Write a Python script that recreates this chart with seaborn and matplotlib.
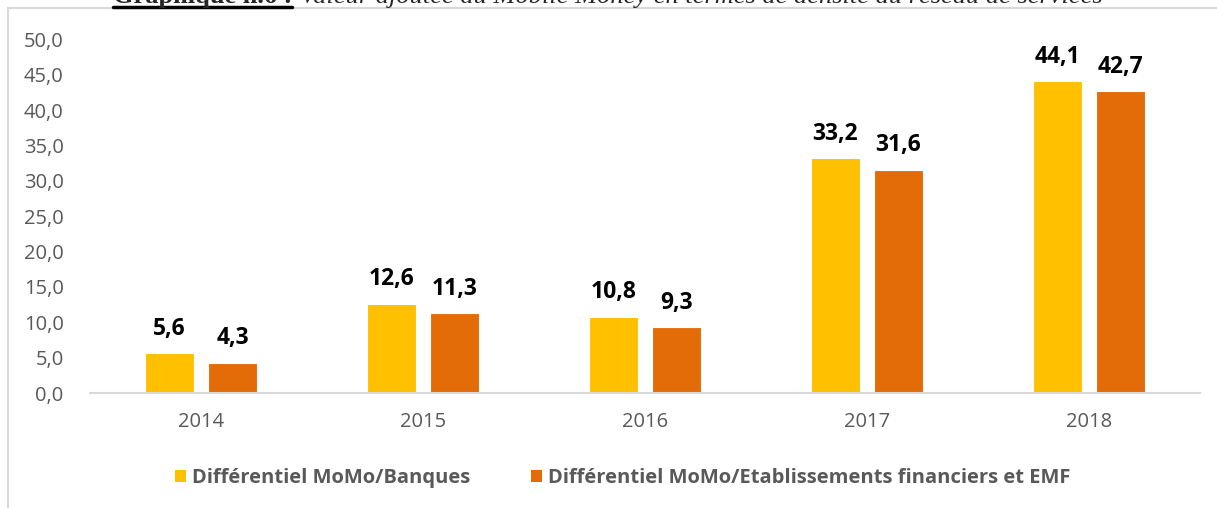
import matplotlib
matplotlib.use('Agg')
import matplotlib.pyplot as plt
from matplotlib.lines import Line2D
from matplotlib.patches import Rectangle, Patch
import pandas as pd
import seaborn as sns

# Data
annees = ['2014', '2015', '2016', '2017', '2018']
series = ['Différentiel MoMo/Banques',
          'Différentiel MoMo/Etablissements financiers et EMF']
momo_banques = [5.6, 12.6, 10.8, 33.2, 44.1]
momo_ef_emf = [4.3, 11.3, 9.3, 31.6, 42.7]
yticks = [0, 5, 10, 15, 20, 25, 30, 35, 40, 45, 50]
couleurs = ['#FFC000', '#E36C09']

titre_num = 'Graphique n.6 :'
titre_txt = 'Valeur ajoutée du Mobile Money en termes de densité du réseau de services'

df = pd.DataFrame({
    'annee': annees * 2,
    'valeur': momo_banques + momo_ef_emf,
    'serie': [series[0]] * len(annees) + [series[1]] * len(annees),
})

sns.set_style('white')
plt.rcParams['font.family'] = ['Open Sans', 'DejaVu Sans']

W, H = 1217, 508
fig = plt.figure(figsize=(W / 100, H / 100), dpi=100)
fig.patch.set_facecolor('white')
ax = fig.add_axes([90 / W, 115 / H, 1110 / W, 353.5 / H])

sns.barplot(data=df, x='annee', y='valeur', hue='serie', hue_order=series,
            palette=couleurs, saturation=1, width=0.5676, gap=0.213,
            edgecolor='white', linewidth=0.8, ax=ax, legend=False)

ax.set_ylim(0, 50)
ax.set_xlim(-0.5, len(annees) - 0.5)
ax.set_yticks(yticks)
ax.set_yticklabels([f'{v:.1f}'.replace('.', ',') for v in yticks])
ax.set_xlabel('')
ax.set_ylabel('')
ax.tick_params(axis='both', length=0, labelsize=14.5, labelcolor='#595959')
ax.tick_params(axis='y', pad=19)
ax.tick_params(axis='x', pad=14)
for s in ['top', 'right', 'left']:
    ax.spines[s].set_visible(False)
ax.spines['bottom'].set_color('#D9D9D9')
ax.spines['bottom'].set_linewidth(1.5)

for cont in ax.containers:
    ax.bar_label(cont, labels=[f'{v:.1f}'.replace('.', ',') for v in cont.datavalues],
                 padding=9, fontsize=16.5, fontweight='bold', color='black')

handles = [Patch(facecolor=c, edgecolor='none') for c in couleurs]
fig.legend(handles, series, loc='center', bbox_to_anchor=(623 / W, 1 - 478 / H),
           ncol=2, frameon=False, handlelength=0.55, handleheight=0.55,
           handletextpad=0.3, columnspacing=3.0,
           prop={'family': 'Open Sans', 'weight': 'bold', 'size': 14.5},
           labelcolor='#595959')

# chart frame
fig.patches.append(Rectangle((8 / W, -0.1), 1.2, 1 - 8 / H + 0.1,
                             transform=fig.transFigure, fill=False,
                             edgecolor='#D9D9D9', linewidth=1.5))

# title, cut off at the top of the picture
y_base = 1 - 3 / H
t1 = fig.text(113 / W, y_base, titre_num, fontsize=19, fontweight='bold',
              family='Liberation Serif', va='baseline', ha='left')
r = fig.canvas.get_renderer()
bb = t1.get_window_extent(r)
fig.add_artist(Line2D([bb.x0 / W, bb.x1 / W], [(bb.y0 + 1) / H] * 2,
                      transform=fig.transFigure, color='black', linewidth=2.5))
fig.text((bb.x1 + 8) / W, y_base, titre_txt, fontsize=19, style='italic',
         family='Liberation Serif', va='baseline', ha='left')

fig.savefig('out.png', dpi=100)
